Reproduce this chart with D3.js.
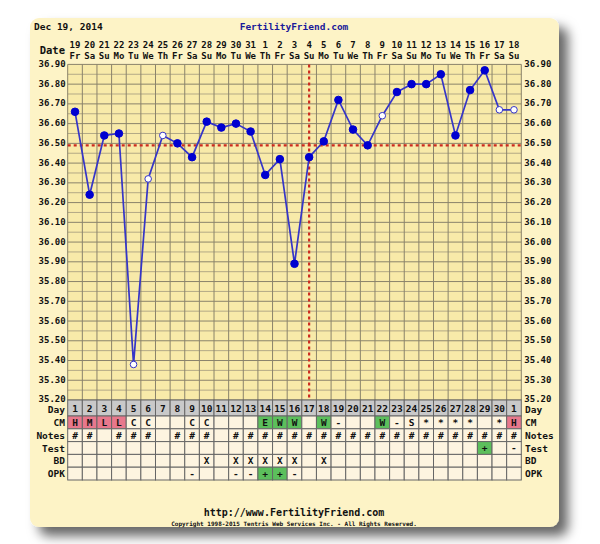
<!DOCTYPE html>
<html><head><meta charset="utf-8">
<script src="https://cdn.jsdelivr.net/npm/d3@7/dist/d3.min.js"></script>
<style>
body{margin:0;background:#fff}
svg{display:block}
text{font-family:"DejaVu Sans Mono","Liberation Mono",monospace;font-weight:bold}
</style>
</head><body>
<svg id="chart" width="600" height="544"></svg>
<script>
// ---- data ----
const dates = ["19","20","21","22","23","24","25","26","27","28","29","30","31","1","2","3","4","5","6","7","8","9","10","11","12","13","14","15","16","17","18"];
const weekdays = ["Fr","Sa","Su","Mo","Tu","We","Th","Fr","Sa","Su","Mo","Tu","We","Th","Fr","Sa","Su","Mo","Tu","We","Th","Fr","Sa","Su","Mo","Tu","We","Th","Fr","Sa","Su"];
const temps = [36.66,36.24,36.54,36.55,35.38,36.32,36.54,36.50,36.43,36.61,36.58,36.60,36.56,36.34,36.42,35.89,36.43,36.51,36.72,36.57,36.49,36.64,36.76,36.80,36.80,36.85,36.54,36.77,36.87,36.67,36.67];
const discarded = [0,0,0,0,1,1,1,0,0,0,0,0,0,0,0,0,0,0,0,0,0,1,0,0,0,0,0,0,0,1,1];
const cycleDays = ["1","2","3","4","5","6","7","8","9","10","11","12","13","14","15","16","17","18","19","20","21","22","23","24","25","26","27","28","29","30","1"];
const cmRow    = ["H","M","L","L","C","C","","","C","C","","","","E","W","W","","W","-","","","W","-","S","*","*","*","*","","*","H"];
const notesRow = ["#","#","","#","#","#","","#","#","#","","#","#","#","#","#","#","#","#","#","#","#","#","#","#","#","#","#","#","#","#"];
const testRow  = ["","","","","","","","","","","","","","","","","","","","","","","","","","","","","+","","-"];
const bdRow    = ["","","","","","","","","","X","","X","X","X","X","X","","X","","","","","","","","","","","","",""];
const opkRow   = ["","","","","","","","","-","","","-","-","+","+","-","","","","","","","","","","","","","","",""];
const yTicks = [35.2,35.3,35.4,35.5,35.6,35.7,35.8,35.9,36.0,36.1,36.2,36.3,36.4,36.5,36.6,36.7,36.8,36.9];
const coverline = 36.49;
const ovulationIndex = 16;
const rowNames = ["CM","Notes","Test","BD","OPK"];
const rows = [cmRow, notesRow, testRow, bdRow, opkRow];

// ---- layout ----
const svg = d3.select("#chart");
const L = 67.7, R = 521.3, T = 64.4, B = 400;
const dayRowH = 16, rowH = 12.8;
const idx = d3.range(dates.length);
const x = d3.scaleBand().domain(idx).range([L, R]);
const y = d3.scaleLinear().domain([35.2, 36.9]).range([B, T]);
const cx = i => x(i) + x.bandwidth()/2;

const defs = svg.append("defs");
const f = defs.append("filter").attr("id","sh").attr("x","-10%").attr("y","-10%").attr("width","130%").attr("height","130%");
f.append("feDropShadow").attr("dx",9).attr("dy",9).attr("stdDeviation",6).attr("flood-color","#000").attr("flood-opacity",0.6);

svg.append("rect").attr("x",30).attr("y",18).attr("width",529).attr("height",509).attr("rx",9)
  .attr("fill","#fdf3c6").attr("filter","url(#sh)");

// header
svg.append("text").attr("x",34).attr("y",29.5).attr("font-size",9.5).attr("fill","#111").text("Dec 19, 2014");
svg.append("text").attr("x",294).attr("y",29.5).attr("font-size",9.5).attr("text-anchor","middle").attr("fill","#1a1a9a").text("FertilityFriend.com");
svg.append("text").attr("x",65).attr("y",53.5).attr("font-size",10.5).attr("text-anchor","end").attr("fill","#111").text("Date");
svg.selectAll(".dt").data(idx).join("text").attr("x",cx).attr("y",48).attr("font-size",9)
  .attr("text-anchor","middle").attr("fill","#111").text(i=>dates[i]);
svg.selectAll(".wd").data(idx).join("text").attr("x",cx).attr("y",59).attr("font-size",9)
  .attr("text-anchor","middle").attr("fill","#111").text(i=>weekdays[i]);

// plot background + grid
svg.append("rect").attr("x",L).attr("y",T).attr("width",R-L).attr("height",B-T).attr("fill","#f8eaa9");
const minor = d3.range(35.25, 36.9, 0.1);
svg.append("g").selectAll("line").data(minor).join("line")
  .attr("x1",L).attr("x2",R).attr("y1",d=>y(d)).attr("y2",d=>y(d)).attr("stroke","#b3a986").attr("stroke-width",1);
svg.append("g").selectAll("line").data(yTicks).join("line")
  .attr("x1",L).attr("x2",R).attr("y1",d=>y(d)).attr("y2",d=>y(d)).attr("stroke","#8a836b").attr("stroke-width",1);
svg.append("g").selectAll("line").data(d3.range(dates.length+1)).join("line")
  .attr("x1",i=>L+i*x.bandwidth()).attr("x2",i=>L+i*x.bandwidth()).attr("y1",T).attr("y2",B)
  .attr("stroke","#8a836b").attr("stroke-width",1);

// axes labels
const fmt = d3.format(".2f");
const la = svg.append("g").attr("transform",`translate(${L-2},0)`).call(d3.axisLeft(y).tickValues(yTicks).tickFormat(fmt).tickSize(0).tickPadding(0));
const ra = svg.append("g").attr("transform",`translate(${R+3},0)`).call(d3.axisRight(y).tickValues(yTicks).tickFormat(fmt).tickSize(0).tickPadding(0));
[la,ra].forEach(g=>{g.select(".domain").remove();g.selectAll("text").attr("dy","0.22em").attr("font-family","DejaVu Sans Mono").attr("font-weight","bold").attr("font-size",9).attr("fill","#111");});

// coverline & ovulation line
svg.append("line").attr("x1",L).attr("x2",R).attr("y1",y(coverline)).attr("y2",y(coverline))
  .attr("stroke","#cc2a1e").attr("stroke-width",2.2).attr("stroke-dasharray","3,3");
svg.append("line").attr("x1",cx(ovulationIndex)).attr("x2",cx(ovulationIndex)).attr("y1",T).attr("y2",B)
  .attr("stroke","#cc2a1e").attr("stroke-width",2.2).attr("stroke-dasharray","3,3");

// temperature line
svg.append("path").datum(idx).attr("fill","none").attr("stroke","#3535c8").attr("stroke-width",1.7)
  .attr("d", d3.line().x(cx).y(i=>y(temps[i])));
svg.selectAll(".pt").data(idx).join("circle").attr("cx",cx).attr("cy",i=>y(temps[i]))
  .attr("r",i=>discarded[i]?3.3:3.8)
  .attr("fill",i=>discarded[i]?"#fff":"#0000d0")
  .attr("stroke",i=>discarded[i]?"#3535c8":"#0000d0").attr("stroke-width",1);

// table
const tbl = svg.append("g");
const dayTop = B;
tbl.selectAll(".dc").data(idx).join("rect").attr("x",i=>x(i)).attr("y",dayTop).attr("width",x.bandwidth()).attr("height",dayRowH)
  .attr("fill","#c9c9c9").attr("stroke","#666").attr("stroke-width",1);
tbl.selectAll(".dn").data(idx).join("text").attr("x",cx).attr("y",dayTop+12).attr("font-size",9.5).attr("text-anchor","middle").attr("fill","#111").text(i=>cycleDays[i]);
const colorOf = v => (v==="H"||v==="M"||v==="L") ? "#e8788c" : (v==="E"||v==="W"||v==="+") ? "#5cbf5c" : "#fdf4e0";
rows.forEach((row,r)=>{
  const top = dayTop + dayRowH + r*rowH;
  tbl.append("g").selectAll("rect").data(idx).join("rect").attr("x",i=>x(i)).attr("y",top).attr("width",x.bandwidth()).attr("height",rowH)
    .attr("fill",i=>colorOf(row[i])).attr("stroke","#666").attr("stroke-width",1);
  tbl.append("g").selectAll("text").data(idx).join("text").attr("x",cx).attr("y",top+9.8).attr("font-size",9.5).attr("text-anchor","middle").attr("fill","#111").text(i=>row[i]);
});
const labels = ["Day"].concat(rowNames);
const labelY = i => i===0 ? dayTop+13 : dayTop+dayRowH+(i-1)*rowH+10;
svg.selectAll(".ll").data(labels).join("text").attr("x",65).attr("y",(d,i)=>labelY(i)).attr("font-size",9.5).attr("text-anchor","end").attr("fill","#111").text(d=>d);
svg.selectAll(".rl").data(labels).join("text").attr("x",525).attr("y",(d,i)=>labelY(i)).attr("font-size",9.5).attr("fill","#111").text(d=>d);

// footer
svg.append("text").attr("x",294).attr("y",516).attr("font-size",10).attr("text-anchor","middle").attr("fill","#111").text("http://www.FertilityFriend.com");
svg.append("text").attr("x",294).attr("y",525.5).attr("font-size",6).attr("text-anchor","middle").attr("fill","#111").attr("font-weight","normal").text("Copyright 1998-2015 Tentris Web Services Inc. - All Rights Reserved.");
</script>
</body></html>
